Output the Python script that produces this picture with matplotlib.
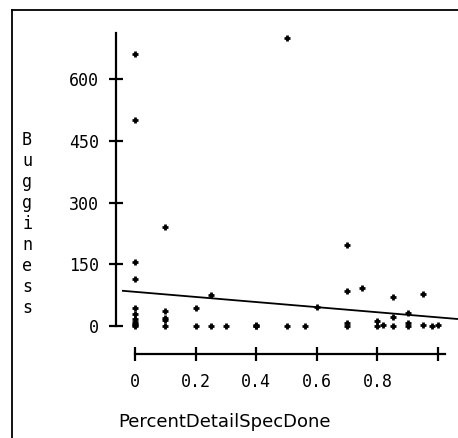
import matplotlib
matplotlib.use("Agg")
import matplotlib.pyplot as plt
from matplotlib.lines import Line2D
import numpy as np

# values, grouped by x column
pct_done = [0.0] * 11 + [0.1] * 5 + [0.2] * 2 + [0.25] * 2 + [0.3] + [0.4] * 3 \
    + [0.5] * 2 + [0.56] + [0.6] + [0.7] * 4 + [0.75] + [0.8] * 2 + [0.82] \
    + [0.85] * 3 + [0.9] * 3 + [0.95] * 2 + [0.98] + [1.0]
bugginess = [660, 500, 155, 115, 44, 28, 18, 10, 5, 0, 2,
             240, 36, 20, 15, 0,
             44, 0,
             75, 0,
             0,
             0, 3, 1,
             700, 0,
             0,
             46,
             197, 85, 8, 0,
             92,
             12, 0,
             2,
             70, 22, 0,
             32, 8, 0,
             78, 2,
             0,
             2]

# fitted line as drawn in the reference
fit_intercept = 83
fit_slope = -62
fit_range = [-0.04, 1.063]

x_ticks = [0, 0.2, 0.4, 0.6, 0.8, 1.0]
x_ticklabels = ["0", "0.2", "0.4", "0.6", "0.8", ""]
y_ticks = [0, 150, 300, 450, 600]

W, H = 458, 438
fig = plt.figure(figsize=(W / 100, H / 100), dpi=100)

# axes placed so x=0 -> 135px, x=1 -> 438px, y=0 -> 326px, y=600 -> 79px
xlim = (-0.1, 1.1)
ylim = (-90, 730)
px_x = 303.0
px_y = (326 - 79) / 600.0
left = 135 + xlim[0] * px_x
bottom_px = 326 - ylim[0] * px_y
ax = fig.add_axes([left / W, (H - bottom_px) / H,
                   (xlim[1] - xlim[0]) * px_x / W, (ylim[1] - ylim[0]) * px_y / H])
ax.set_xlim(*xlim)
ax.set_ylim(*ylim)
ax.patch.set_visible(False)

ax.plot(pct_done, bugginess, linestyle="none", marker="+", markersize=5,
        markeredgewidth=2, color="black", clip_on=False)

xs = np.array(fit_range)
ax.plot(xs, fit_intercept + fit_slope * xs, color="black", lw=1.3, clip_on=False)

for s in ["top", "right"]:
    ax.spines[s].set_visible(False)
ax.spines["left"].set_position(("data", -0.063))
ax.spines["left"].set_bounds(0, 712)
ax.spines["bottom"].set_position(("data", -67))
ax.spines["bottom"].set_bounds(0, 1.023)
for s in ["left", "bottom"]:
    ax.spines[s].set_linewidth(1.6)

ax.set_xticks(x_ticks)
ax.set_xticklabels(x_ticklabels)
ax.set_yticks(y_ticks)
ax.tick_params(direction="inout", length=10.5, width=1.6,
               labelsize=12, labelfontfamily="DejaVu Sans Mono")
ax.tick_params(axis="x", pad=9)
ax.tick_params(axis="y", pad=7)

# stacked y label
ylabel = "Bugginess"
for i, ch in enumerate(ylabel):
    fig.text(27 / W, 1 - (140 + i * 21) / H, ch, ha="center", va="center",
             fontsize=12, family="DejaVu Sans Mono")

fig.text(225 / W, 1 - 422 / H, "PercentDetailSpecDone", ha="center", va="center",
         fontsize=13, family="DejaVu Sans")

# outer frame (only top and left edges fall inside the image)
fig.add_artist(Line2D([12 / W, 12 / W], [0, 1 - 10 / H], transform=fig.transFigure,
                      color="black", lw=1.3))
fig.add_artist(Line2D([12 / W, 1], [1 - 10 / H, 1 - 10 / H], transform=fig.transFigure,
                      color="black", lw=1.3))

fig.savefig("out.png", dpi=100)
